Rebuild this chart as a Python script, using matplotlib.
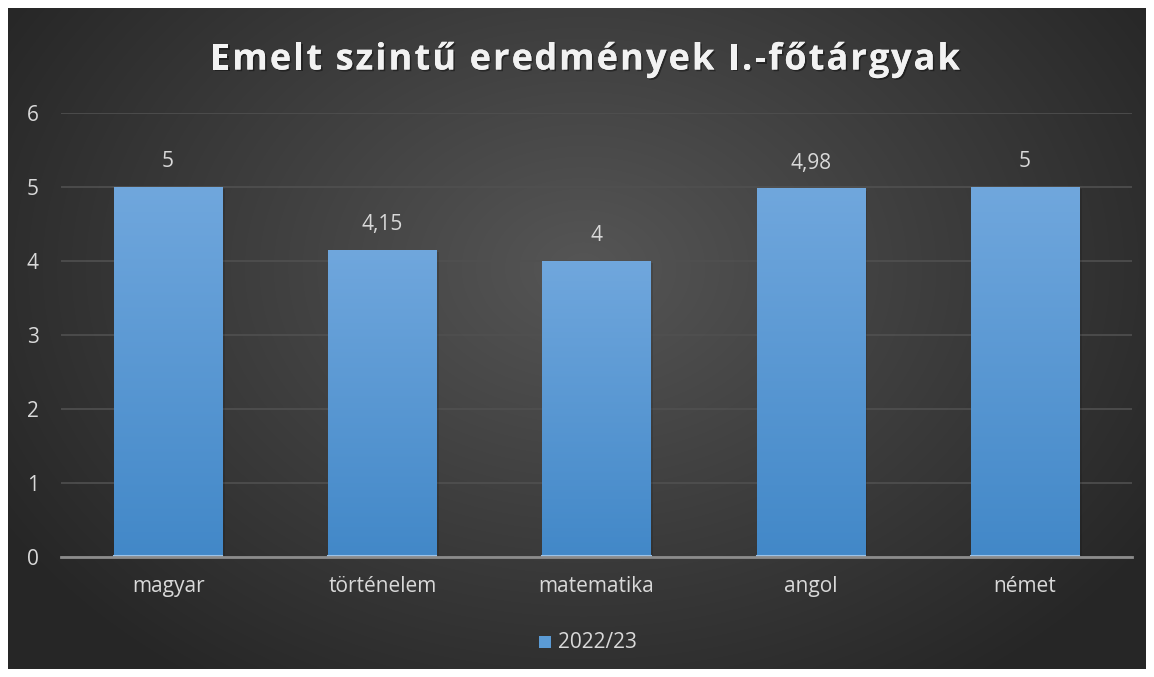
import numpy as np
import matplotlib.pyplot as plt
import matplotlib.patheffects as pe
from matplotlib.font_manager import FontProperties

subjects = ["magyar", "történelem", "matematika", "angol", "német"]
averages = [5, 4.15, 4, 4.98, 5]
value_labels = ["5", "4,15", "4", "4,98", "5"]
series_name = "2022/23"
title = "Emelt szintű eredmények I.-főtárgyak"

plt.rcParams['font.family'] = ['Open Sans', 'DejaVu Sans']
W, H = 1154, 677
fig = plt.figure(figsize=(W / 100, H / 100), dpi=100, facecolor='white')
txt_col = '#d9d9d9'
fs = 15

# dark radial background of the chart area
bg = fig.add_axes([8 / W, 8 / H, 1138 / W, 661 / H])
bg.set_axis_off()
yy, xx = np.mgrid[0:661, 0:1138]
r = np.sqrt(((xx - 575) / 700) ** 2 + ((yy - 260) / 520) ** 2)
shade = np.clip(0.335 - 0.19 * r, 0.15, 0.34)
bg.imshow(np.dstack([shade] * 3), aspect='auto', extent=(0, 1, 0, 1))
bg.set_xlim(0, 1)
bg.set_ylim(0, 1)

ax = fig.add_axes([61 / W, (H - 557) / H, 1071 / W, 444 / H])
ax.patch.set_alpha(0)
x = np.arange(len(subjects))
bars = ax.bar(x, averages, width=0.505, color='#5b9bd5', zorder=3)

# vertical gradient inside each bar
grad = np.linspace(0, 1, 256).reshape(-1, 1)
top = np.array([112, 167, 221]) / 255
bot = np.array([66, 136, 200]) / 255
img = bot + (top - bot) * grad[..., None]
for b in bars:
    x0, w, h = b.get_x(), b.get_width(), b.get_height()
    ax.bar(x0 + w / 2 + 0.012, h, width=w, bottom=-0.03, color='black', alpha=0.12, zorder=2)
    im = ax.imshow(img, extent=(x0, x0 + w, 0, h), origin='lower', aspect='auto', zorder=4)
    im.set_clip_path(b)
    ax.plot([x0, x0 + w], [0.015, 0.015], color='#9cc3e8', lw=1.5, zorder=5)

for xi, v, lab in zip(x, averages, value_labels):
    ax.text(xi, v + 0.2, lab, ha='center', va='bottom', color=txt_col, fontsize=fs, zorder=6)

ax.set_xlim(-0.5, len(subjects) - 0.5)
ax.set_ylim(0, 6)
ax.set_yticks(range(7))
ax.yaxis.grid(True, color='#505050', lw=1.2, zorder=0)
ax.set_axisbelow(True)
ax.set_xticks(x)
ax.set_xticklabels(subjects)
ax.tick_params(axis='both', length=0, colors=txt_col, labelsize=fs)
ax.tick_params(axis='x', pad=14)
ax.tick_params(axis='y', pad=16)
for s in ['top', 'right', 'left']:
    ax.spines[s].set_visible(False)
ax.spines['bottom'].set_color('#8c8c8c')
ax.spines['bottom'].set_linewidth(2)
ax.spines['bottom'].set_zorder(7)

# letter-spaced title, placed character by character
renderer = fig.canvas.get_renderer()
tprop = FontProperties(family=['Open Sans', 'DejaVu Sans'], weight='bold', size=26)

def text_w(s):
    return renderer.get_text_width_height_descent(s, tprop, ismath=False)[0]

base = text_w("||")
offs = [text_w("|" + title[:i] + "|") - base for i in range(len(title) + 1)]
left, right = 210, 960
n = len(title)
spacing = ((right - left) - offs[-1]) / (n - 1)
shadow = [pe.withSimplePatchShadow(offset=(1.2, -1.2), alpha=0.4, shadow_rgbFace='black'), pe.Normal()]
for i, ch in enumerate(title):
    if ch == ' ':
        continue
    px = left + offs[i] + i * spacing
    fig.text(px / W, 1 - 56 / H, ch, ha='left', va='center_baseline', fontproperties=tprop,
             color='#f2f2f2', path_effects=shadow)

fig.patches.append(plt.Rectangle((539 / W, 1 - 648 / H), 12 / W, 12 / H, transform=fig.transFigure,
                                 facecolor='#5b9bd5', edgecolor='none'))
fig.text(558 / W, 1 - 642 / H, series_name, ha='left', va='center', color=txt_col, fontsize=fs)

fig.savefig('out.png', dpi=100, facecolor='white')
